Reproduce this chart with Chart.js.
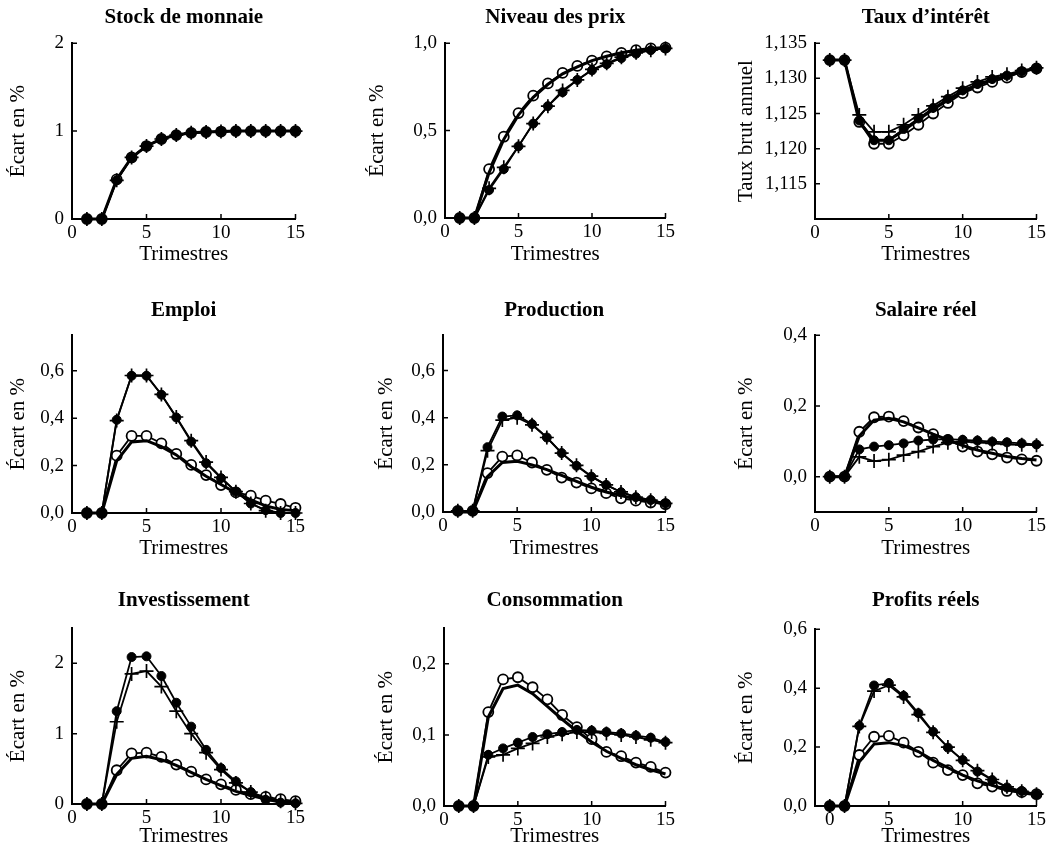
<!DOCTYPE html>
<html lang="fr">
<head>
<meta charset="utf-8">
<title>Réponses à un choc monétaire</title>
<script src="https://cdn.jsdelivr.net/npm/chart.js@4.4.1/dist/chart.umd.min.js"></script>
<style>
  html, body { margin: 0; padding: 0; background: #fff; }
  #planche { position: relative; width: 1049px; height: 850px; overflow: hidden; background: #fff; }
  #planche canvas { position: absolute; }
</style>
</head>
<body>
<div id="planche"></div>
<script>
// ================================
// Données
// ================================
const trimestres = [1, 2, 3, 4, 5, 6, 7, 8, 9, 10, 11, 12, 13, 14, 15];

// graduations
const ticksX = [0, 5, 10, 15];
const labelsX = ["0", "5", "10", "15"];
const ticksXProfits = [1, 5, 10, 15]; // le "0" est imprimé sous le 1er trimestre
const ticksMonnaie = [0, 1, 2];
const ticksPrix = [0, 0.5, 1];
const ticksTaux = [1.115, 1.12, 1.125, 1.13, 1.135];
const ticksEmploi = [0, 0.2, 0.4, 0.6];
const ticksSalaire = [0, 0.2, 0.4];
const ticksInvest = [0, 1, 2];
const ticksConso = [0, 0.1, 0.2];
const ticksProfits = [0, 0.2, 0.4, 0.6];

// Stock de monnaie
const monnaieModele = [0, 0, 0.45, 0.70, 0.83, 0.91, 0.955, 0.98, 0.99, 0.995, 1.0, 1.0, 1.0, 1.0, 1.0];
const monnaieCercles = [0, 0, 0.45, 0.70, 0.83, 0.91, 0.955, 0.98, 0.99, 0.995, 1.0, 1.0, 1.0, 1.0, 1.0];
const monnaieCroix = [0, 0, 0.44, 0.70, 0.83, 0.91, 0.955, 0.98, 0.99, 0.995, 1.0, 1.0, 1.0, 1.0, 1.0];
const monnaiePoints = [0, 0, 0.44, 0.70, 0.83, 0.91, 0.955, 0.98, 0.99, 0.995, 1.0, 1.0, 1.0, 1.0, 1.0];

// Niveau des prix
const prixModele = [0, 0, 0.26, 0.45, 0.59, 0.69, 0.765, 0.825, 0.865, 0.90, 0.925, 0.945, 0.96, 0.97, 0.975];
const prixCercles = [0, 0, 0.28, 0.465, 0.60, 0.70, 0.77, 0.83, 0.87, 0.90, 0.925, 0.945, 0.96, 0.97, 0.975];
const prixCroix = [0, 0, 0.17, 0.29, 0.41, 0.54, 0.64, 0.73, 0.79, 0.85, 0.885, 0.92, 0.945, 0.96, 0.97];
const prixPoints = [0, 0, 0.16, 0.28, 0.41, 0.54, 0.64, 0.72, 0.79, 0.845, 0.88, 0.915, 0.94, 0.96, 0.97];

// Taux d'intérêt
const tauxModele = [1.1326, 1.1326, 1.1238, 1.1212, 1.1212, 1.1226, 1.1241, 1.1256, 1.1269, 1.1281, 1.1290, 1.1298, 1.1303, 1.1310, 1.1314];
const tauxCercles = [1.1326, 1.1326, 1.1238, 1.1207, 1.1207, 1.1219, 1.1234, 1.1250, 1.1265, 1.1279, 1.1287, 1.1295, 1.1301, 1.1309, 1.1314];
const tauxCroix = [1.1326, 1.1326, 1.1248, 1.1224, 1.1224, 1.1234, 1.1248, 1.1261, 1.1274, 1.1286, 1.1295, 1.1302, 1.1306, 1.1311, 1.1315];
const tauxPoints = [1.1326, 1.1326, 1.1240, 1.1212, 1.1212, 1.1228, 1.1243, 1.1258, 1.1271, 1.1283, 1.1292, 1.1299, 1.1304, 1.1310, 1.1314];

// Emploi
const emploiModele = [0, 0, 0.22, 0.30, 0.305, 0.28, 0.245, 0.195, 0.155, 0.12, 0.085, 0.055, 0.03, 0.015, 0.01];
const emploiCercles = [0, 0, 0.242, 0.325, 0.325, 0.294, 0.249, 0.203, 0.16, 0.118, 0.087, 0.073, 0.052, 0.038, 0.022];
const emploiCroix = [0, 0, 0.39, 0.58, 0.58, 0.50, 0.405, 0.305, 0.215, 0.15, 0.09, 0.04, 0.01, 0, 0];
const emploiPoints = [0, 0, 0.393, 0.579, 0.579, 0.499, 0.403, 0.301, 0.21, 0.147, 0.09, 0.04, 0.012, 0, 0];

// Production
const prodModele = [0, 0, 0.15, 0.21, 0.215, 0.20, 0.18, 0.155, 0.13, 0.105, 0.085, 0.07, 0.055, 0.045, 0.035];
const prodCercles = [0.005, 0.005, 0.165, 0.235, 0.24, 0.21, 0.179, 0.146, 0.125, 0.10, 0.08, 0.058, 0.048, 0.04, 0.033];
const prodCroix = [0.005, 0.005, 0.26, 0.39, 0.40, 0.37, 0.316, 0.25, 0.198, 0.152, 0.115, 0.085, 0.063, 0.05, 0.037];
const prodPoints = [0.005, 0.005, 0.275, 0.405, 0.41, 0.373, 0.316, 0.25, 0.196, 0.15, 0.115, 0.084, 0.063, 0.051, 0.037];

// Salaire réel
const salaireModele = [0, 0, 0.115, 0.16, 0.165, 0.155, 0.138, 0.12, 0.104, 0.088, 0.075, 0.066, 0.057, 0.051, 0.047];
const salaireCercles = [0, 0, 0.127, 0.168, 0.17, 0.157, 0.139, 0.12, 0.104, 0.085, 0.071, 0.063, 0.054, 0.049, 0.045];
const salaireCroix = [0, 0, 0.056, 0.044, 0.048, 0.061, 0.071, 0.085, 0.096, 0.099, 0.097, 0.094, 0.091, 0.09, 0.089];
const salairePoints = [0, 0, 0.077, 0.085, 0.089, 0.094, 0.102, 0.105, 0.106, 0.104, 0.102, 0.099, 0.097, 0.094, 0.091];

// Investissement
const investModele = [0, 0, 0.42, 0.65, 0.68, 0.63, 0.55, 0.45, 0.35, 0.26, 0.18, 0.12, 0.07, 0.04, 0.02];
const investCercles = [0, 0, 0.48, 0.72, 0.73, 0.67, 0.56, 0.46, 0.35, 0.28, 0.20, 0.14, 0.10, 0.07, 0.04];
const investCroix = [0, 0, 1.17, 1.85, 1.89, 1.67, 1.32, 1.00, 0.73, 0.49, 0.30, 0.17, 0.09, 0.04, 0.01];
const investPoints = [0, 0, 1.32, 2.09, 2.10, 1.82, 1.44, 1.10, 0.77, 0.51, 0.32, 0.17, 0.06, 0.02, 0.01];

// Consommation
const consoModele = [0, 0, 0.125, 0.165, 0.17, 0.158, 0.14, 0.122, 0.105, 0.09, 0.077, 0.067, 0.058, 0.051, 0.045];
const consoCercles = [0, 0, 0.132, 0.178, 0.181, 0.167, 0.15, 0.128, 0.111, 0.094, 0.076, 0.07, 0.061, 0.055, 0.047];
const consoCroix = [0, 0, 0.069, 0.072, 0.081, 0.088, 0.097, 0.101, 0.104, 0.104, 0.102, 0.1, 0.097, 0.093, 0.089];
const consoPoints = [0, 0, 0.072, 0.081, 0.089, 0.097, 0.101, 0.104, 0.107, 0.106, 0.104, 0.102, 0.099, 0.096, 0.09];

// Profits réels
const profitsModele = [0, 0, 0.15, 0.21, 0.215, 0.205, 0.185, 0.155, 0.13, 0.105, 0.085, 0.07, 0.055, 0.045, 0.038];
const profitsCercles = [0, 0, 0.173, 0.235, 0.238, 0.215, 0.184, 0.147, 0.122, 0.105, 0.077, 0.066, 0.051, 0.047, 0.04];
const profitsCroix = [0, 0, 0.27, 0.39, 0.41, 0.37, 0.31, 0.25, 0.20, 0.155, 0.12, 0.09, 0.065, 0.05, 0.04];
const profitsPoints = [0, 0, 0.272, 0.409, 0.417, 0.374, 0.315, 0.252, 0.198, 0.156, 0.117, 0.088, 0.063, 0.051, 0.04];

// ================================
// Panneaux
// ================================
const panneaux = [
  { titre: "Stock de monnaie", axeY: "Écart en %", series: [monnaieModele, monnaieCercles, monnaieCroix, monnaiePoints], yMin: 0, yMax: 2, yTicks: ticksMonnaie, dec: 0, xTicks: ticksX },
  { titre: "Niveau des prix", axeY: "Écart en %", series: [prixModele, prixCercles, prixCroix, prixPoints], yMin: 0, yMax: 1, yTicks: ticksPrix, dec: 1, xTicks: ticksX },
  { titre: "Taux d’intérêt", axeY: "Taux brut annuel", series: [tauxModele, tauxCercles, tauxCroix, tauxPoints], yMin: 1.11, yMax: 1.135, yTicks: ticksTaux, dec: 3, xTicks: ticksX },
  { titre: "Emploi", axeY: "Écart en %", series: [emploiModele, emploiCercles, emploiCroix, emploiPoints], yMin: 0, yMax: 0.75, yTicks: ticksEmploi, dec: 1, xTicks: ticksX },
  { titre: "Production", axeY: "Écart en %", series: [prodModele, prodCercles, prodCroix, prodPoints], yMin: 0, yMax: 0.75, yTicks: ticksEmploi, dec: 1, xTicks: ticksX },
  { titre: "Salaire réel", axeY: "Écart en %", series: [salaireModele, salaireCercles, salaireCroix, salairePoints], yMin: -0.1, yMax: 0.4, yTicks: ticksSalaire, dec: 1, xTicks: ticksX },
  { titre: "Investissement", axeY: "Écart en %", series: [investModele, investCercles, investCroix, investPoints], yMin: 0, yMax: 2.5, yTicks: ticksInvest, dec: 0, xTicks: ticksX },
  { titre: "Consommation", axeY: "Écart en %", series: [consoModele, consoCercles, consoCroix, consoPoints], yMin: 0, yMax: 0.25, yTicks: ticksConso, dec: 1, xTicks: ticksX },
  { titre: "Profits réels", axeY: "Écart en %", series: [profitsModele, profitsCercles, profitsCroix, profitsPoints], yMin: 0, yMax: 0.6, yTicks: ticksProfits, dec: 1, xTicks: ticksXProfits },
];

// mise en page : position du canvas, largeur de l'axe Y, hauteur de l'axe X, marges des titres
const cadres = [
  { x: 0,   y: 0,   w: 308, h: 290, axeY: 72,  axeX: 71, tHaut: 5, tBas: 13, padY: 6,  padX: 23 },
  { x: 350, y: 0,   w: 328, h: 290, axeY: 95,  axeX: 72, tHaut: 5, tBas: 13, padY: 15, padX: 23 },
  { x: 700, y: 0,   w: 349, h: 290, axeY: 115, axeX: 71, tHaut: 5, tBas: 13, padY: 34, padX: 23 },
  { x: 0,   y: 290, w: 308, h: 290, axeY: 72,  axeX: 67, tHaut: 8, tBas: 12, padY: 6,  padX: 19 },
  { x: 350, y: 290, w: 328, h: 290, axeY: 93,  axeX: 68, tHaut: 8, tBas: 12, padY: 24, padX: 19 },
  { x: 700, y: 290, w: 349, h: 290, axeY: 115, axeX: 68, tHaut: 8, tBas: 12, padY: 34, padX: 19 },
  { x: 0,   y: 580, w: 308, h: 270, axeY: 72,  axeX: 46, tHaut: 8, tBas: 15, padY: 6,  padX: 1 },
  { x: 350, y: 580, w: 328, h: 270, axeY: 94,  axeX: 44, tHaut: 8, tBas: 15, padY: 24, padX: 1 },
  { x: 700, y: 580, w: 349, h: 270, axeY: 115, axeX: 44, tHaut: 8, tBas: 16, padY: 34, padX: 1 },
];

const police = "'Liberation Serif', 'Times New Roman', serif";
const noir = "#000";

function formatFr(v, dec) {
  return Number(v).toFixed(dec).replace(".", ",");
}

// petites graduations tournées vers l'intérieur
const graduationsInternes = {
  id: "graduationsInternes",
  afterDraw(chart) {
    const { ctx, chartArea, scales } = chart;
    ctx.save();
    ctx.strokeStyle = noir;
    ctx.lineWidth = 1.5;
    ctx.beginPath();
    scales.y.ticks.forEach((t) => {
      const py = scales.y.getPixelForValue(t.value);
      ctx.moveTo(chartArea.left, py);
      ctx.lineTo(chartArea.left + 5, py);
    });
    scales.x.ticks.forEach((t) => {
      const px = scales.x.getPixelForValue(t.value);
      ctx.moveTo(px, chartArea.bottom);
      ctx.lineTo(px, chartArea.bottom - 5);
    });
    ctx.stroke();
    ctx.restore();
  },
};

function serie(valeurs, style) {
  return Object.assign(
    {
      data: trimestres.map((t, i) => ({ x: t, y: valeurs[i] })),
      borderColor: noir,
      pointBorderColor: noir,
      clip: false,
      tension: 0,
    },
    style
  );
}

const styleModele = { borderWidth: 3, pointRadius: 0, order: 2 };
const styleCercles = { borderWidth: 1.8, pointStyle: "circle", pointRadius: 5, pointBorderWidth: 1.8, pointBackgroundColor: "#fff", order: 3 };
const styleCroix = { borderWidth: 1.8, pointStyle: "cross", pointRadius: 7, pointBorderWidth: 1.7, order: 1 };
const styleDisques = { borderWidth: 1.8, pointStyle: "circle", pointRadius: 4.5, pointBorderWidth: 1, pointBackgroundColor: noir, order: 0 };

function creerPanneau(p, c) {
  const canvas = document.createElement("canvas");
  canvas.width = c.w;
  canvas.height = c.h;
  canvas.style.left = c.x + "px";
  canvas.style.top = c.y + "px";
  document.getElementById("planche").appendChild(canvas);

  const labelsTicksX = p.xTicks === ticksXProfits ? labelsX : p.xTicks.map(String);

  new Chart(canvas, {
    type: "line",
    data: {
      datasets: [
        serie(p.series[0], styleModele),
        serie(p.series[1], styleCercles),
        serie(p.series[2], styleCroix),
        serie(p.series[3], styleDisques),
      ],
    },
    options: {
      responsive: false,
      animation: false,
      devicePixelRatio: 1,
      events: [],
      layout: { padding: { left: 0, right: 11, top: 0, bottom: 0 } },
      plugins: {
        legend: { display: false },
        tooltip: { enabled: false },
        title: {
          display: true,
          text: p.titre,
          fullSize: false,
          color: noir,
          font: { family: police, size: 21, weight: "bold" },
          padding: { top: c.tHaut, bottom: c.tBas },
        },
      },
      scales: {
        x: {
          type: "linear",
          min: 0,
          max: 15,
          grid: { display: false, drawTicks: false },
          border: { display: true, color: noir, width: 2 },
          ticks: {
            color: noir,
            padding: 3,
            autoSkip: false,
            maxRotation: 0,
            font: { family: police, size: 19 },
            callback: (v, i) => labelsTicksX[i],
          },
          afterBuildTicks: (scale) => {
            scale.ticks = p.xTicks.map((v) => ({ value: v }));
          },
          afterFit: (scale) => {
            scale.height = c.axeX;
          },
          title: {
            display: true,
            text: "Trimestres",
            color: noir,
            font: { family: police, size: 21 },
            padding: { top: 0, bottom: c.padX },
          },
        },
        y: {
          type: "linear",
          min: p.yMin,
          max: p.yMax,
          grid: { display: false, drawTicks: false },
          border: { display: true, color: noir, width: 2 },
          ticks: {
            color: noir,
            padding: 8,
            autoSkip: false,
            font: { family: police, size: 19 },
            callback: (v) => formatFr(v, p.dec),
          },
          afterBuildTicks: (scale) => {
            scale.ticks = p.yTicks.map((v) => ({ value: v }));
          },
          afterFit: (scale) => {
            scale.width = c.axeY;
          },
          title: {
            display: true,
            text: p.axeY,
            color: noir,
            font: { family: police, size: 21 },
            padding: { top: c.padY, bottom: 0 },
          },
        },
      },
    },
    plugins: [graduationsInternes],
  });
}

panneaux.forEach((p, i) => creerPanneau(p, cadres[i]));
</script>
</body>
</html>
